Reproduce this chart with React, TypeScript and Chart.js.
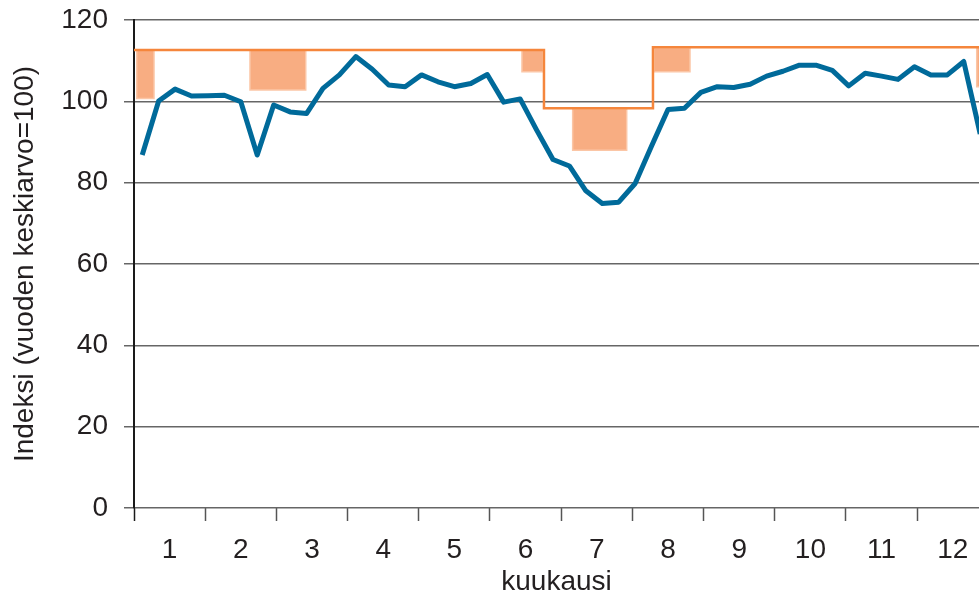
import React, { useEffect, useRef } from 'react';
import { Chart, registerables } from 'chart.js';

Chart.register(...registerables);

// Weekly index values (52 weeks)
const weeklyIndex: number[] = [
  86.8, 100.1, 103.0, 101.3, 101.4, 101.5, 99.9, 86.8, 99.1, 97.4,
  97.0, 103.2, 106.5, 111.0, 107.9, 104.0, 103.6, 106.5, 104.8, 103.6,
  104.4, 106.6, 99.8, 100.6, 93.0, 85.7, 84.1, 78.0, 74.9, 75.2,
  79.8, 89.0, 98.0, 98.3, 102.2, 103.6, 103.4, 104.2, 106.2, 107.4,
  108.9, 108.9, 107.6, 103.8, 106.9, 106.2, 105.4, 108.5, 106.5, 106.5,
  109.8, 92.0,
];

const monthLabels: string[] = ['1', '2', '3', '4', '5', '6', '7', '8', '9', '10', '11', '12'];
const yTickValues: number[] = [0, 20, 40, 60, 80, 100, 120];

// Orange step line (month position, level)
const stepX: number[] = [0, 5.758, 7.289, 12];
const stepY: number[] = [112.6, 98.3, 113.3, 113.3];

// Orange boxes (month ranges, top and bottom levels)
const boxStart: number[] = [0.038, 1.629, 5.449, 6.161, 7.303, 11.836];
const boxEnd: number[] = [0.281, 2.412, 5.744, 6.92, 7.809, 12];
const boxTop: number[] = [112.6, 112.6, 112.6, 98.1, 113.1, 113.3];
const boxBottom: number[] = [100.7, 102.8, 107.3, 88.0, 107.3, 103.6];

const X_MAX = 11.868;
const WEEKS = 52;

const FONT = "'Liberation Sans', Arial, Helvetica, sans-serif";
const TEXT = '#231f20';
const GRID = '#666666';

export default function App() {
  const ref = useRef<HTMLCanvasElement | null>(null);

  useEffect(() => {
    if (!ref.current) return;

    const blueData = weeklyIndex.map((v, i) => ({ x: ((i + 0.5) * 12) / WEEKS, y: v }));
    const stepData = stepX.map((x, i) => ({ x, y: stepY[i] }));

    const boxDatasets: any[] = [];
    boxStart.forEach((s, i) => {
      const e = boxEnd[i];
      const t = boxTop[i];
      const b = boxBottom[i];
      boxDatasets.push({
        type: 'line',
        data: [
          { x: s, y: t },
          { x: e, y: t },
        ],
        fill: { value: b },
        backgroundColor: '#f8ad82',
        borderWidth: 0,
        pointRadius: 0,
        order: 3,
      });
      boxDatasets.push({
        type: 'line',
        data: [
          { x: s, y: t },
          { x: e, y: t },
          { x: e, y: b },
          { x: s, y: b },
          { x: s, y: t },
        ],
        fill: false,
        borderColor: '#fbc6a6',
        borderWidth: 1.5,
        pointRadius: 0,
        order: 2,
      });
    });

    const xTicks: number[] = [];
    for (let m = 0; m < 12; m++) {
      xTicks.push(m, m + 0.5);
    }

    const chart = new Chart(ref.current, {
      type: 'line',
      data: {
        datasets: [
          {
            data: blueData,
            borderColor: '#006a9a',
            borderWidth: 5,
            pointRadius: 0,
            tension: 0,
            fill: false,
            borderJoinStyle: 'round',
            order: 0,
          } as any,
          {
            data: stepData,
            borderColor: '#f5863c',
            borderWidth: 2.5,
            pointRadius: 0,
            stepped: true,
            fill: false,
            order: 1,
          } as any,
          ...boxDatasets,
        ],
      },
      options: {
        animation: false,
        responsive: false,
        devicePixelRatio: 1,
        layout: { padding: { top: 20, left: 0, right: 0, bottom: 0 } },
        plugins: {
          legend: { display: false },
          tooltip: { enabled: false },
        },
        scales: {
          x: {
            type: 'linear',
            min: 0,
            max: X_MAX,
            afterBuildTicks: (s: any) => {
              s.ticks = xTicks.map((v) => ({ value: v }));
            },
            afterFit: (s: any) => {
              s.height = 87;
              s.paddingLeft = 0;
              s.paddingRight = 0;
              s.paddingTop = 0;
              s.paddingBottom = 0;
            },
            grid: {
              drawOnChartArea: false,
              drawTicks: true,
              tickLength: 13,
              tickWidth: 1.5,
              tickColor: (ctx: any) => {
                const v = ctx.tick ? ctx.tick.value : 0.5;
                if (v === 0) return '#1a1a1a';
                return v % 1 === 0 ? '#555555' : 'rgba(0,0,0,0)';
              },
            },
            border: { display: false },
            ticks: {
              autoSkip: false,
              maxRotation: 0,
              minRotation: 0,
              padding: 12.5,
              color: TEXT,
              font: { family: FONT, size: 28 },
              callback: (value: any) => {
                const v = Number(value);
                return v % 1 === 0.5 ? monthLabels[Math.floor(v)] : '';
              },
            },
            title: {
              display: true,
              text: 'kuukausi',
              color: TEXT,
              font: { family: FONT, size: 28, lineHeight: 0.9 },
              padding: { top: 0, bottom: 0 },
            },
          },
          y: {
            type: 'linear',
            min: 0,
            max: 120,
            afterBuildTicks: (s: any) => {
              s.ticks = yTickValues.map((v) => ({ value: v }));
            },
            afterFit: (s: any) => {
              s.width = 134;
              s.paddingTop = 0;
              s.paddingBottom = 0;
              s.paddingLeft = 0;
              s.paddingRight = 0;
            },
            grid: {
              color: GRID,
              lineWidth: 1.5,
              tickLength: 10,
            },
            border: { color: '#1a1a1a', width: 2 },
            ticks: {
              padding: 16,
              color: TEXT,
              font: { family: FONT, size: 28 },
            },
            title: {
              display: true,
              text: 'Indeksi (vuoden keskiarvo=100)',
              color: TEXT,
              font: { family: FONT, size: 28, lineHeight: 1 },
              padding: { top: 11, bottom: 0 },
            },
          },
        },
      } as any,
    });

    return () => {
      chart.destroy();
    };
  }, []);

  return (
    <div style={{ position: 'absolute', left: 0, top: 0, width: 979, height: 595, overflow: 'hidden', background: '#ffffff' }}>
      <canvas ref={ref} width={979} height={595} style={{ display: 'block', width: 979, height: 595 }} />
    </div>
  );
}
